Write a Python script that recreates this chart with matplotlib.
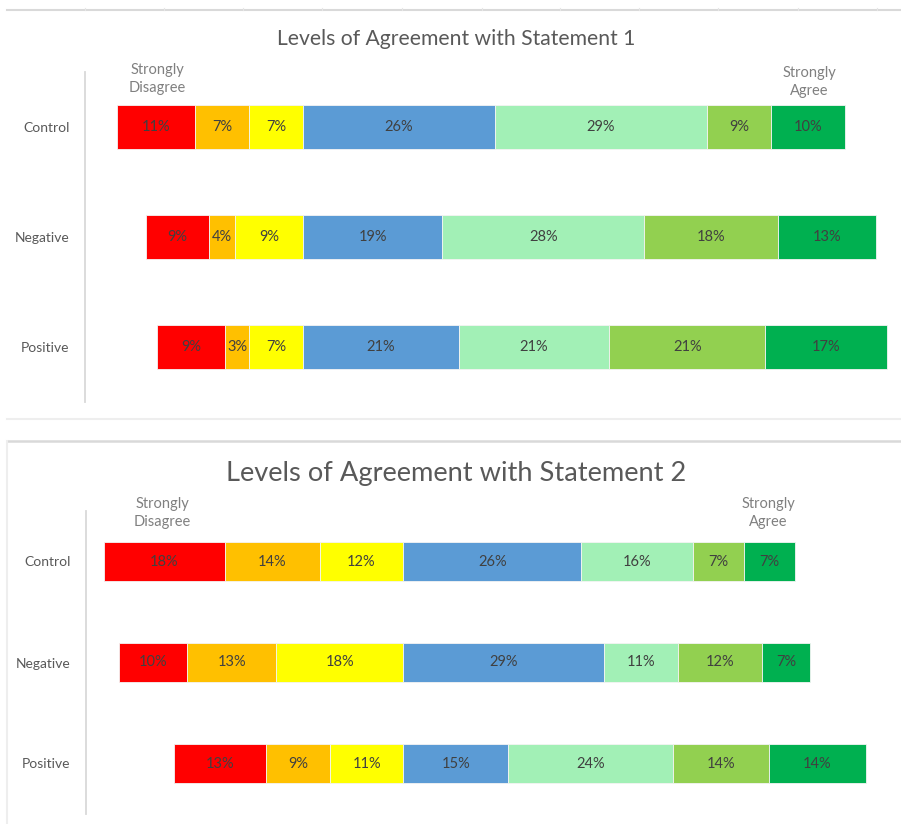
import matplotlib
matplotlib.use("Agg")
import matplotlib.pyplot as plt
from matplotlib.lines import Line2D

plt.rcParams['font.family'] = ['Lato', 'DejaVu Sans']

# ---- data ----
groups = ["Control", "Negative", "Positive"]
levels = ["Strongly Disagree", "Disagree", "Somewhat Disagree", "Neutral",
          "Somewhat Agree", "Agree", "Strongly Agree"]
colors = ["#FF0000", "#FFC000", "#FFFF00", "#5B9BD5", "#A2F0B6", "#92D050", "#00B050"]

s1_control = [10.7, 7.4, 7.4, 26.3, 29.1, 8.8, 10.2]
s1_negative = [8.6, 3.6, 9.3, 19.1, 27.7, 18.4, 13.4]
s1_positive = [9.3, 3.3, 7.4, 21.4, 20.6, 21.4, 16.7]

s2_control = [17.6, 13.6, 12.1, 25.7, 16.1, 7.4, 7.4]
s2_negative = [9.9, 12.8, 18.4, 29.0, 10.7, 12.1, 7.0]
s2_positive = [13.3, 9.2, 10.6, 15.2, 23.8, 13.9, 13.9]

titles = ["Levels of Agreement with Statement 1", "Levels of Agreement with Statement 2"]

W, H = 901, 824
fig = plt.figure(figsize=(W / 100, H / 100), dpi=100)


def px_axes(left, top, right, bottom):
    return fig.add_axes([left / W, 1 - bottom / H, (right - left) / W, (bottom - top) / H])


def fx(x):
    return x / W


def fy(y):
    return 1 - y / H


def draw_panel(ax, data, xlim, bar_h):
    for gi, row in enumerate(data):
        left = -(row[0] + row[1] + row[2])
        for li, v in enumerate(row):
            ax.barh(gi, v, left=left, height=bar_h, color=colors[li],
                    edgecolor="#f4f4f4", linewidth=0.6)
            ax.text(left + v / 2, gi, f"{round(v)}%", ha="center", va="center",
                    fontsize=10.5, color="#404040")
            left += v
    ax.set_xlim(*xlim)
    ax.set_ylim(2.5, -0.5)
    ax.set_yticks(range(len(groups)))
    ax.set_yticklabels(groups, fontsize=10, color="#595959")
    ax.tick_params(axis="y", length=0, pad=11)
    ax.set_xticks([])
    for s in ["top", "right", "bottom"]:
        ax.spines[s].set_visible(False)
    ax.spines["left"].set_color("#d9d9d9")
    ax.spines["left"].set_linewidth(1.3)


ax1 = px_axes(85, 72, 890, 402)
draw_panel(ax1, [s1_control, s1_negative, s1_positive],
           ((85 - 303) / 7.29, (890 - 303) / 7.29), 0.40)

ax2 = px_axes(86, 511, 890, 814)
draw_panel(ax2, [s2_control, s2_negative, s2_positive],
           ((86 - 403.3) / 6.92, (890 - 403.3) / 6.92), 0.39)

# titles
fig.text(fx(456), fy(39), titles[0], ha="center", va="center", fontsize=15.2, color="#595959")
fig.text(fx(456), fy(473), titles[1], ha="center", va="center", fontsize=19.6, color="#595959")

# end annotations
ann_c = "#808080"
kw = dict(ha="center", va="center", fontsize=10.5, color=ann_c, linespacing=1.45)
fig.text(fx(157), fy(79), "Strongly\nDisagree", **kw)
fig.text(fx(809), fy(82), "Strongly\nAgree", **kw)
fig.text(fx(162), fy(513), "Strongly\nDisagree", **kw)
fig.text(fx(768), fy(513), "Strongly\nAgree", **kw)

# panel borders
fig.add_artist(Line2D([fx(7), fx(901)], [fy(10), fy(10)], color="#d9d9d9", lw=1.5))
for tx in [85, 164, 243, 322, 402, 482, 560, 639, 718, 798, 877]:
    fig.add_artist(Line2D([fx(tx), fx(tx)], [fy(10), fy(8)], color="#e6e6e6", lw=0.8))
fig.add_artist(Line2D([fx(7), fx(901)], [fy(419), fy(419)], color="#eeeeee", lw=1.5))
fig.add_artist(Line2D([fx(7), fx(901)], [fy(441), fy(441)], color="#d9d9d9", lw=1.8))
fig.add_artist(Line2D([fx(7), fx(7)], [fy(441), fy(824)], color="#eeeeee", lw=1.5))

fig.savefig("out.png", dpi=100, facecolor="white")
